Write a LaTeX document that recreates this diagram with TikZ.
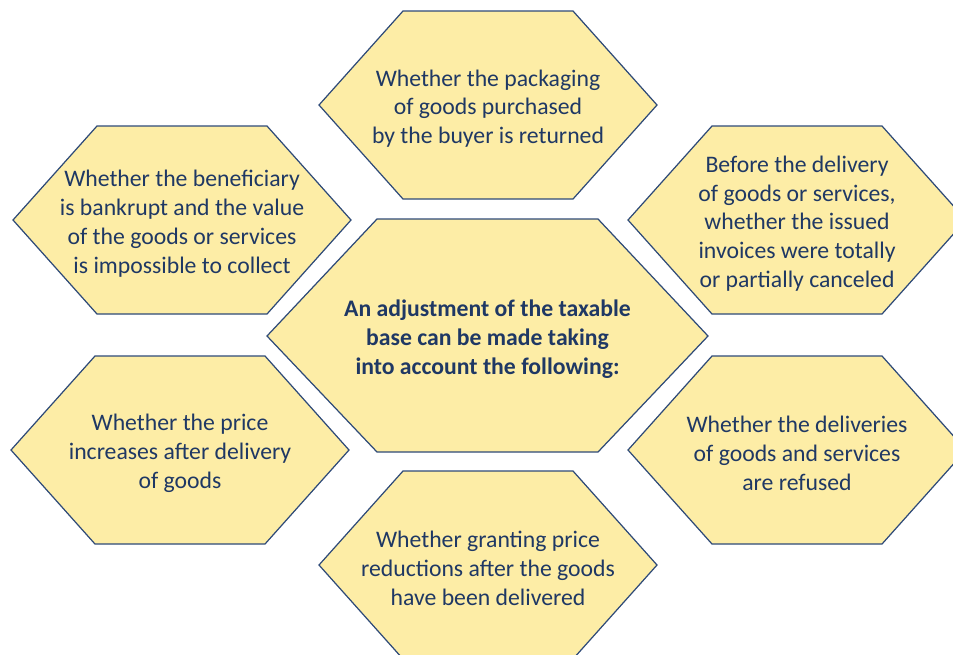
\documentclass[tikz,border=0pt]{standalone}
\usepackage{fontspec}
\setmainfont{Carlito}

\definecolor{hexfill}{HTML}{FDEDA6}
\definecolor{hexline}{HTML}{2E4A78}
\definecolor{hextext}{HTML}{1F3864}

\tikzset{
  hexcell/.style={fill=hexfill,draw=hexline,line width=0.7pt,line join=miter},
  celltext/.style={text=hextext,align=center,font=\fontsize{13.5}{16.4}\selectfont}
}

\begin{document}
\begin{tikzpicture}[x=0.02cm,y=-0.02cm]
\clip (0,0) rectangle (953,654);

% outer cells round the centre
\foreach \cx/\cy/\txt [count=\i] in {
  488/105/{Whether the packaging\\of goods purchased\\by the buyer is returned},
  182/220/{Whether the beneficiary\\is bankrupt and the value\\of the goods or services\\is impossible to collect},
  797/220/{Before the delivery\\of goods or services,\\whether the issued\\invoices were totally\\or partially canceled},
  180/450/{Whether the price\\increases after delivery\\of goods},
  797/450/{Whether the deliveries\\of goods and services\\are refused},
  488/565/{Whether granting price\\reductions after the goods\\have been delivered}} {
  \draw[hexcell] (\cx-169,\cy) -- (\cx-85,\cy-94) -- (\cx+85,\cy-94)
    -- (\cx+169,\cy) -- (\cx+85,\cy+94) -- (\cx-85,\cy+94) -- cycle;
  \node[celltext] (cell\i) at (\cx,\cy+3.5) {\txt};
}

% centre cell
\draw[hexcell] (267,336) -- (377,219) -- (598,219) -- (708,336) -- (598,452) -- (377,452) -- cycle;
\node[celltext,font=\fontsize{13.5}{16.4}\selectfont\bfseries] (base) at (487.5,339)
  {An adjustment of the taxable\\base can be made taking\\into account the following:};
\end{tikzpicture}
\end{document}
